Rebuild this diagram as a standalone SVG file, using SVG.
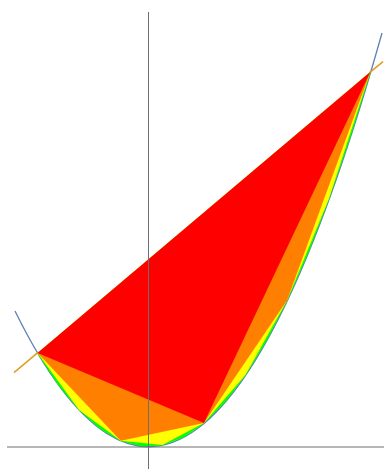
<svg xmlns="http://www.w3.org/2000/svg" width="384" height="469" viewBox="0 0 384 469">
<style>
.curve{fill:none;stroke:#5e81b5;stroke-width:1.3}
.line{fill:none;stroke:#e19c24;stroke-width:1.5}
.axis{fill:none;stroke:#6e6e6e;stroke-width:1}
</style>
<rect width="384" height="469" fill="#ffffff"/>
<g id="plot-lines">
<path class="curve" d="M15,311 Q198.5,683.7 382,33"/>
<line class="line" x1="14" y1="372.6" x2="38.6" y2="351.9"/>
<line class="line" x1="369.3" y1="72.9" x2="383" y2="61.6"/>
</g>
<g id="green">
<polygon fill="#00ff00" points="37.6,352.9 58.39,384.71 79.19,409.94 99.98,428.58 120.78,440.65 141.57,446.13 162.36,445.04 183.16,437.36 203.95,423.1 224.74,402.26 245.54,374.84 266.33,340.83 287.13,300.25 307.92,253.08 328.71,199.34 349.51,139.01 370.3,72.1"/>
<polyline fill="none" stroke="#00ff00" stroke-width="0.8" stroke-linejoin="round" points="37.6,352.9 58.39,384.71 79.19,409.94 99.98,428.58 120.78,440.65 141.57,446.13 162.36,445.04 183.16,437.36 203.95,423.1 224.74,402.26 245.54,374.84 266.33,340.83 287.13,300.25 307.92,253.08 328.71,199.34 349.51,139.01 370.3,72.1"/>
</g>
<g id="yellow">
<polygon fill="#ffff00" points="37.6,352.9 79.19,409.94 120.78,440.65 162.36,445.04 203.95,423.1 245.54,374.84 287.13,300.25 328.71,199.34 370.3,72.1"/>
</g>
<g id="orange">
<polygon fill="#ff8000" points="37.6,352.9 120.78,440.65 203.95,423.1 287.13,300.25 370.3,72.1"/>
</g>
<g id="red">
<polygon fill="#ff0000" points="37.6,352.9 203.95,423.1 370.3,72.1"/>
</g>
<g id="axes">
<line class="axis" x1="148.5" y1="12" x2="148.5" y2="469"/>
<line class="axis" x1="7" y1="447" x2="384" y2="447"/>
</g>
</svg>
